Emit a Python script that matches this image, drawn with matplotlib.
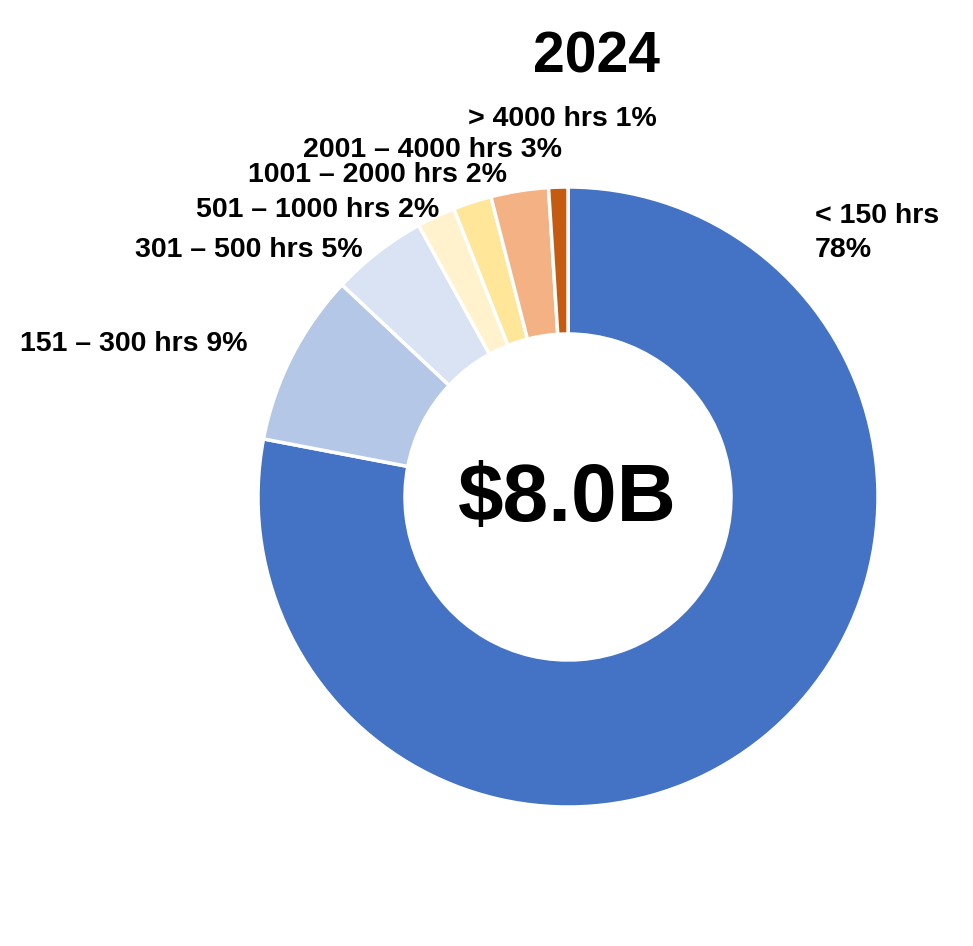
import matplotlib.pyplot as plt

# Data
labels = ["< 150 hrs", "151 – 300 hrs", "301 – 500 hrs", "501 – 1000 hrs",
          "1001 – 2000 hrs", "2001 – 4000 hrs", "> 4000 hrs"]
shares = [78, 9, 5, 2, 2, 3, 1]
colors = ["#4472C4", "#B4C7E7", "#DAE3F3", "#FFF2CC", "#FFE699", "#F4B183", "#C55A11"]
year = "2024"
total = "$8.0B"

W, H = 973, 946
plt.rcParams['font.family'] = ['Liberation Sans', 'DejaVu Sans']

fig = plt.figure(figsize=(W / 100, H / 100), dpi=100)
ax = fig.add_axes([0, 0, 1, 1])

# donut, work in pixel coordinates (y from top flipped)
cx, cy, R = 568, H - 497, 310
ax.pie(shares, colors=colors, startangle=90, counterclock=False,
       radius=R, center=(cx, cy),
       wedgeprops=dict(width=147, edgecolor="white", linewidth=2.5))
ax.set_xlim(0, W)
ax.set_ylim(0, H)
ax.set_aspect("equal")
ax.axis("off")

def txt(x, y, s, **kw):
    # x, y are pixel positions from top-left, y is baseline
    ax.text(x, H - y, s, fontweight="bold", va="baseline", **kw)

# slice labels (left edge, baseline)
pos = [None, (20, 351), (135, 257), (196, 217), (248, 182), (303, 157), (468, 126)]
for i in range(1, len(labels)):
    x, y = pos[i]
    txt(x, y, "%s %d%%" % (labels[i], shares[i]), fontsize=20.5)

txt(815, 223, labels[0], fontsize=20.5)
txt(815, 257, "%d%%" % shares[0], fontsize=20.5)

# title and center
txt(596, 73, year, fontsize=41, ha="center")
txt(567, 521, total, fontsize=59, ha="center")

fig.savefig("out.png", dpi=100, facecolor="white")
